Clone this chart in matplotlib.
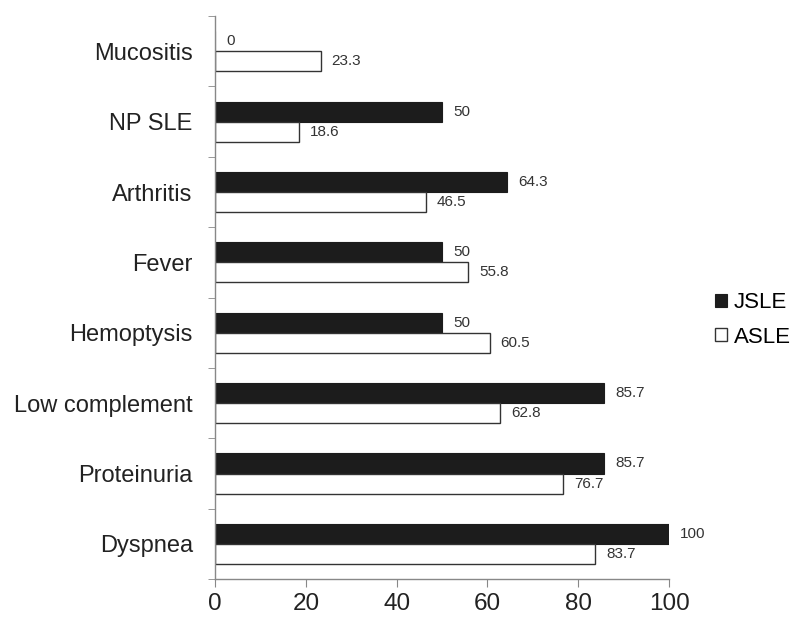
import matplotlib
matplotlib.use("Agg")
import matplotlib.pyplot as plt
import numpy as np

plt.rcParams['font.family'] = ['Liberation Sans', 'DejaVu Sans']

categories = ["Dyspnea", "Proteinuria", "Low complement", "Hemoptysis", "Fever", "Arthritis", "NP SLE", "Mucositis"]
jsle = [100, 85.7, 85.7, 50, 50, 64.3, 50, 0]
asle = [83.7, 76.7, 62.8, 60.5, 55.8, 46.5, 18.6, 23.3]
xticks = [0, 20, 40, 60, 80, 100]

def fmt(v):
    return str(int(v)) if float(v).is_integer() else f"{v}"

fig = plt.figure(figsize=(7.97, 6.2), dpi=100)
ax = fig.add_axes([0.2698, 0.066, 0.5696, 0.908])

y = np.arange(len(categories))
h = 0.285
ax.barh(y + h / 2, jsle, height=h, color="#1c1c1c", edgecolor="#1c1c1c", linewidth=0.8, label="JSLE")
ax.barh(y - h / 2, asle, height=h, color="white", edgecolor="#333333", linewidth=1.0, label="ASLE")

for yi, v in zip(y, jsle):
    ax.text(v + 2.4, yi + h / 2, fmt(v), va="center", ha="left", fontsize=11, color="#333333")
for yi, v in zip(y, asle):
    ax.text(v + 2.4, yi - h / 2, fmt(v), va="center", ha="left", fontsize=11, color="#333333")

ax.set_xlim(0, 100)
ax.set_ylim(-0.5, len(categories) - 0.5)
ax.set_xticks(xticks)
ax.set_xticklabels([str(t) for t in xticks], fontsize=17.5, color="#222222")
ax.set_yticks(y)
ax.set_yticklabels(categories, fontsize=17, color="#222222")
ax.tick_params(axis="y", length=0, pad=16)
ax.set_yticks(np.arange(-0.5, len(categories)), minor=True)
ax.tick_params(axis="y", which="minor", length=5, color="#888888")
ax.tick_params(axis="x", length=6, color="#888888", pad=4)

for s in ["top", "right"]:
    ax.spines[s].set_visible(False)
for s in ["left", "bottom"]:
    ax.spines[s].set_color("#888888")
    ax.spines[s].set_linewidth(1.0)

fig.legend(loc="center left", bbox_to_anchor=(0.897, 0.484), frameon=False, fontsize=16,
           borderpad=0, borderaxespad=0,
           handlelength=0.54, handleheight=0.54, handletextpad=0.3, labelspacing=0.6)

fig.savefig("out.png", dpi=100)
